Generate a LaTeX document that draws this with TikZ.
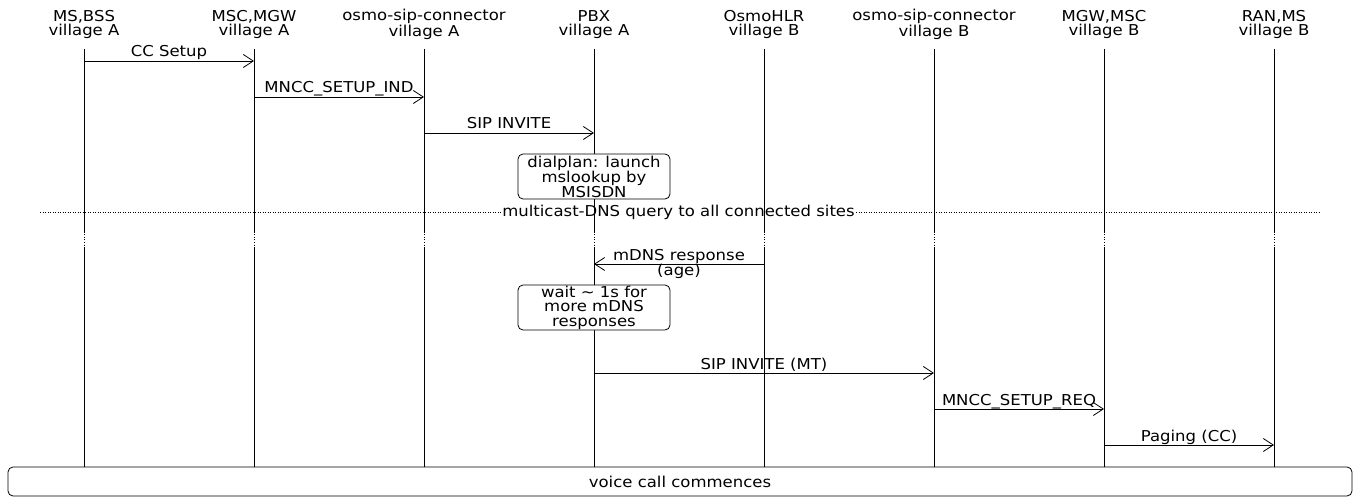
\documentclass[tikz,border=0pt]{standalone}
\usepackage{fontspec}
\setmainfont{DejaVu Sans}[FakeStretch=1.1]
\usetikzlibrary{arrows.meta}

\begin{document}
\begin{tikzpicture}[
    x=1pt, y=-1pt,
    line width=0.8pt,
    every node/.style={font=\fontsize{15}{14.5}\selectfont, inner sep=0pt, align=center},
    msg/.style={-{Straight Barb[length=10pt,width=13pt]}},
    lbl/.style={midway, anchor=base, yshift=4pt},
    note/.style={draw, fill=white, rounded corners=5pt, minimum width=152pt, minimum height=45pt},
    gap/.style={dash pattern=on 1pt off 1.5pt}
  ]
  \useasboundingbox (0,0) rectangle (1360,497);

  % Entities
  \node (ms)   at (84,24.5)   {MS,BSS\\village A};
  \node (msc)  at (254,24.5)  {MSC,MGW\\village A};
  \node (sipa) at (424,24.5)  {osmo-sip-connector\\village A};
  \node (pbx)  at (594,24.5)  {PBX\\village A};
  \node (hlr)  at (764,24.5)  {OsmoHLR\\village B};
  \node (sipb) at (934,24.5)  {osmo-sip-connector\\village B};
  \node (mgw)  at (1104,24.5) {MGW,MSC\\village B};
  \node (ran)  at (1274,24.5) {RAN,MS\\village B};

  % Rows
  \coordinate (top)  at (0,49);
  \coordinate (r1)   at (0,61);
  \coordinate (r2)   at (0,97);
  \coordinate (r3)   at (0,133);
  \coordinate (r4)   at (0,176.5);
  \coordinate (divl) at (40,212);
  \coordinate (divr) at (1320,212);
  \coordinate (dotA) at (0,232);
  \coordinate (dotB) at (0,248);
  \coordinate (r6)   at (0,264);
  \coordinate (r7)   at (0,307.5);
  \coordinate (r8)   at (0,373);
  \coordinate (r9)   at (0,409);
  \coordinate (r10)  at (0,445);
  \coordinate (bot)  at (0,467);

  % Lifelines
  \draw (ms |- top) -- (ms |- dotA) (ms |- dotB) -- (ms |- bot);
  \draw (msc |- top) -- (msc |- dotA) (msc |- dotB) -- (msc |- bot);
  \draw (sipa |- top) -- (sipa |- dotA) (sipa |- dotB) -- (sipa |- bot);
  \draw (pbx |- top) -- (pbx |- dotA) (pbx |- dotB) -- (pbx |- bot);
  \draw (hlr |- top) -- (hlr |- dotA) (hlr |- dotB) -- (hlr |- bot);
  \draw (sipb |- top) -- (sipb |- dotA) (sipb |- dotB) -- (sipb |- bot);
  \draw (mgw |- top) -- (mgw |- dotA) (mgw |- dotB) -- (mgw |- bot);
  \draw (ran |- top) -- (ran |- dotA) (ran |- dotB) -- (ran |- bot);
  \draw[gap] (ms |- dotA) -- (ms |- dotB) (msc |- dotA) -- (msc |- dotB)
    (sipa |- dotA) -- (sipa |- dotB) (pbx |- dotA) -- (pbx |- dotB)
    (hlr |- dotA) -- (hlr |- dotB) (sipb |- dotA) -- (sipb |- dotB)
    (mgw |- dotA) -- (mgw |- dotB) (ran |- dotA) -- (ran |- dotB);

  % Village A side
  \draw[msg] (ms |- r1) -- (msc |- r1) node[lbl] {CC Setup};
  \draw[msg] (msc |- r2) -- (sipa |- r2) node[lbl] {MNCC\_SETUP\_IND};
  \draw[msg] (sipa |- r3) -- (pbx |- r3) node[lbl] {SIP INVITE};
  \node[note] (plan) at (pbx |- r4) {dialplan: launch\\mslookup by\\MSISDN};

  % Lookup
  \node[anchor=base, inner xsep=1pt] (query) at (678.5,217) {multicast-DNS query to all connected sites};
  \draw[gap] (divl) -- (query.west |- divl) (query.east |- divl) -- (divr);
  \draw[msg] (hlr |- r6) -- (pbx |- r6) node[midway] {mDNS response\\(age)};
  \node[note] (wait) at (pbx |- r7) {wait \textasciitilde{} 1s for\\more mDNS\\responses};

  % Village B side
  \draw[msg] (pbx |- r8) -- (sipb |- r8) node[lbl] {SIP INVITE (MT)};
  \draw[msg] (sipb |- r9) -- (mgw |- r9) node[lbl] {MNCC\_SETUP\_REQ};
  \draw[msg] (mgw |- r10) -- (ran |- r10) node[lbl] {Paging (CC)};
  \node[draw, fill=white, rounded corners=5pt, minimum width=1344pt, minimum height=29pt] (voice) at (680,481.5) {voice call commences};
\end{tikzpicture}
\end{document}
